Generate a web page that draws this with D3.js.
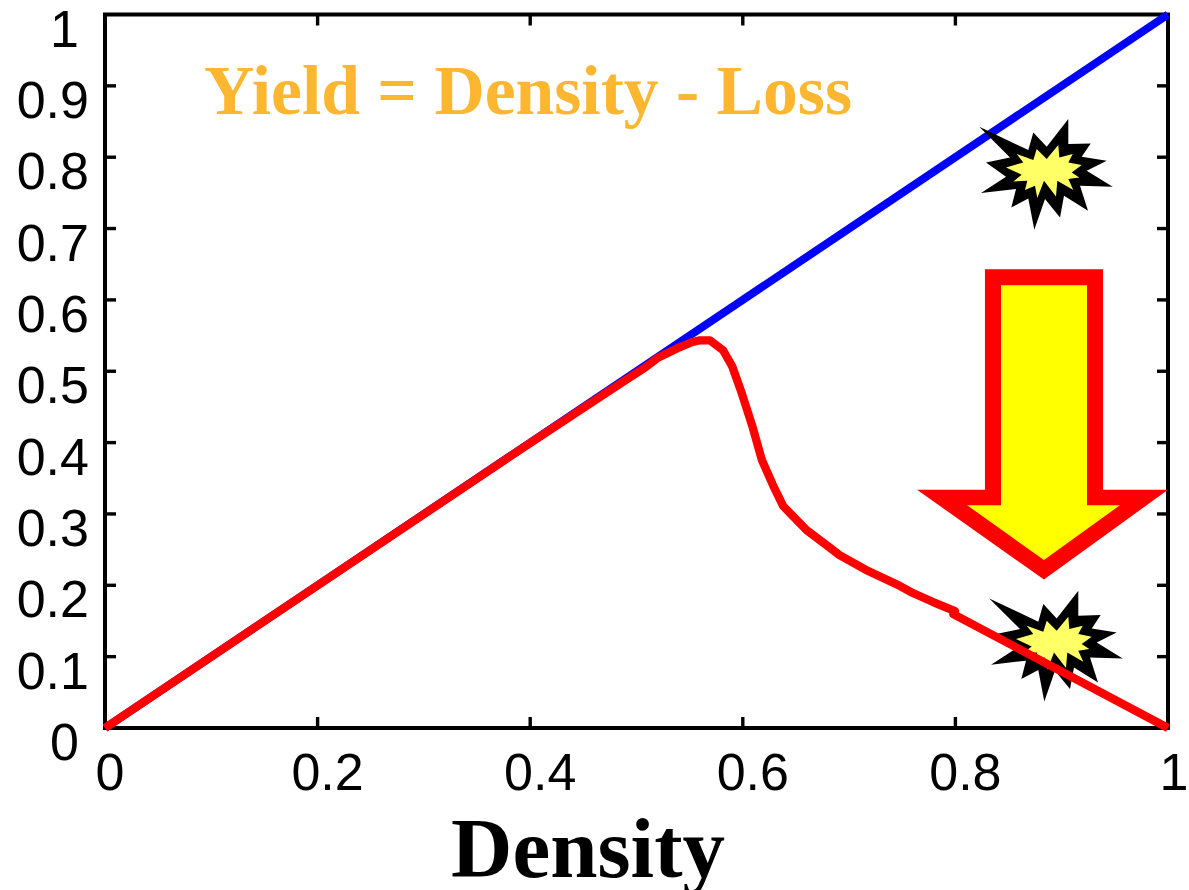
<!DOCTYPE html>
<html><head><meta charset="utf-8">
<script src="https://cdn.jsdelivr.net/npm/d3@7"></script>
<style>html,body{margin:0;padding:0;background:#fff;overflow:hidden}svg{display:block}</style>
</head><body><svg id="c" width="1189" height="890"></svg>
<script>
const xTicks=[0,0.2,0.4,0.6,0.8,1];
const xTickLabels=["0","0.2","0.4","0.6","0.8","1"];
const yTicks=[0,0.1,0.2,0.3,0.4,0.5,0.6,0.7,0.8,0.9,1];
const yTickLabels=["0","0.1","0.2","0.3","0.4","0.5","0.6","0.7","0.8","0.9","1"];
const densityValues=[0,1];
const yieldNoLoss=[0,1];
const redDensity=[0,0.4,0.4845,0.5084,0.5202,0.538,0.552,0.5597,0.569,0.5814,0.59,0.599,0.6087,0.618,0.6284,0.638,0.66,0.68,0.691,0.718,0.748,0.76,0.779,0.7996,0.798,1];
const redYield=[0,0.3995,0.4825,0.5056,0.519,0.532,0.5406,0.5434,0.5434,0.5294,0.507,0.4692,0.4244,0.3754,0.3403,0.3109,0.2773,0.2549,0.2423,0.2199,0.1989,0.1891,0.1765,0.1639,0.1597,0];
const arrowOuterX=[0.8278,0.9389,0.9389,1.0,0.8833,0.7639,0.8278,0.8278];
const arrowOuterY=[0.6429,0.6429,0.3339,0.3339,0.208,0.3339,0.3339,0.6429];
const arrowInnerX=[0.8429,0.9238,0.9238,0.9548,0.8833,0.811,0.8429,0.8429];
const arrowInnerY=[0.6204,0.6204,0.3122,0.3122,0.2353,0.3122,0.3122,0.6204];
const starCentersX=[0.8843,0.8937];
const starCentersY=[0.781,0.12];
const starOuterDx=[-65.7,-16.7,-11.7,1.7,23.3,23.3,45.7,36.7,61.7,41.7,67.7,35,43,19,15,0,-10.7,-16.7,-33.7,-29,-64,-39,-59,-35];
const starOuterDy=[-44,-20.7,-38.3,-24,-51.7,-26.7,-27.3,-14,-10,0,16,15,40,25,46.7,28.3,59,27.7,36.7,18.3,22.3,6,-8.3,-13.3];
const starInnerDx=[-39,-21.7,-28.3,-11.7,-8.3,1.7,13.3,14.3,27.7,23.3,36.7,26.7,34.3,23.3,28.3,12.3,11,-1,-7.7,-10,-20,-17.7,-31.7,-23.3];
const starInnerDy=[-3.3,-8.3,-16.7,-10.7,-21.7,-11.7,-25.7,-13.3,-16.7,-8.3,-5.7,1.7,6.7,8.3,19.3,10,25.7,10,27.3,15,19.3,10,10.7,4];

const W=1189,H=890,L=105,R=1168,T=14.5,B=728;
const svg=d3.select("#c");
const x=d3.scaleLinear().domain([0,1]).range([L,R]);
const y=d3.scaleLinear().domain([0,1]).range([B,T]);
const sans="'Liberation Sans',Arial,sans-serif", serif="'Liberation Serif','Times New Roman',serif";

svg.append("rect").attr("x",x(0)).attr("y",y(1)).attr("width",x(1)-x(0)).attr("height",y(0)-y(1))
  .attr("fill","none").attr("stroke","#000").attr("stroke-width",4);
const tk=11;
const g=svg.append("g").attr("stroke","#000").attr("stroke-width",3.4);
xTicks.slice(1,-1).forEach(t=>{
  g.append("line").attr("x1",x(t)).attr("x2",x(t)).attr("y1",y(0)).attr("y2",y(0)-tk);
  g.append("line").attr("x1",x(t)).attr("x2",x(t)).attr("y1",y(1)).attr("y2",y(1)+tk);
});
yTicks.slice(1,-1).forEach(t=>{
  g.append("line").attr("y1",y(t)).attr("y2",y(t)).attr("x1",x(0)).attr("x2",x(0)+tk);
  g.append("line").attr("y1",y(t)).attr("y2",y(t)).attr("x1",x(1)).attr("x2",x(1)-tk);
});
svg.append("g").selectAll("text").data(xTicks).join("text")
  .attr("x",d=>x(d)+(d===0?5:d===1?6:10)).attr("y",790).attr("text-anchor","middle")
  .attr("font-family",sans).attr("font-size",52).attr("fill","#000")
  .text((d,i)=>xTickLabels[i]);
svg.append("g").selectAll("text").data(yTicks).join("text")
  .attr("x",d=>(d===0||d===1)?79:89).attr("y",d=>y(d)+32).attr("text-anchor","end")
  .attr("font-family",sans).attr("font-size",52).attr("fill","#000")
  .text((d,i)=>yTickLabels[i]);
svg.append("text").attr("x",588).attr("y",877).attr("text-anchor","middle")
  .attr("font-family",serif).attr("font-weight","bold").attr("font-size",85).attr("fill","#000").text("Density");
svg.append("text").attr("x",528).attr("y",114).attr("text-anchor","middle")
  .attr("font-family",serif).attr("font-weight","bold").attr("font-size",69.6).attr("fill","#FDB630").text("Yield = Density - Loss");

const pts=(xs,ys)=>xs.map((v,i)=>[x(v),y(ys[i])].join(",")).join(" ");
function star(i){
  const s=svg.append("g").attr("transform",`translate(${x(starCentersX[i])},${y(starCentersY[i])})`);
  s.append("polygon").attr("fill","#000").attr("points",starOuterDx.map((d,k)=>d+","+starOuterDy[k]).join(" "));
  s.append("polygon").attr("fill","#FFFF66").attr("points",starInnerDx.map((d,k)=>d+","+starInnerDy[k]).join(" "));
}
const line=d3.line().x(d=>x(d[0])).y(d=>y(d[1]));
svg.append("path").attr("d",line(densityValues.map((d,i)=>[d,yieldNoLoss[i]]))).attr("fill","none").attr("stroke","#0000FF").attr("stroke-width",8);
star(0);
star(1);
svg.append("polygon").attr("points",pts(arrowOuterX,arrowOuterY)).attr("fill","#FF0000");
svg.append("polygon").attr("points",pts(arrowInnerX,arrowInnerY)).attr("fill","#FFFF00");
svg.append("path").attr("d",line(redDensity.map((d,i)=>[d,redYield[i]]))).attr("fill","none").attr("stroke","#FF0000").attr("stroke-width",8.3).attr("stroke-linejoin","round");
</script></body></html>
